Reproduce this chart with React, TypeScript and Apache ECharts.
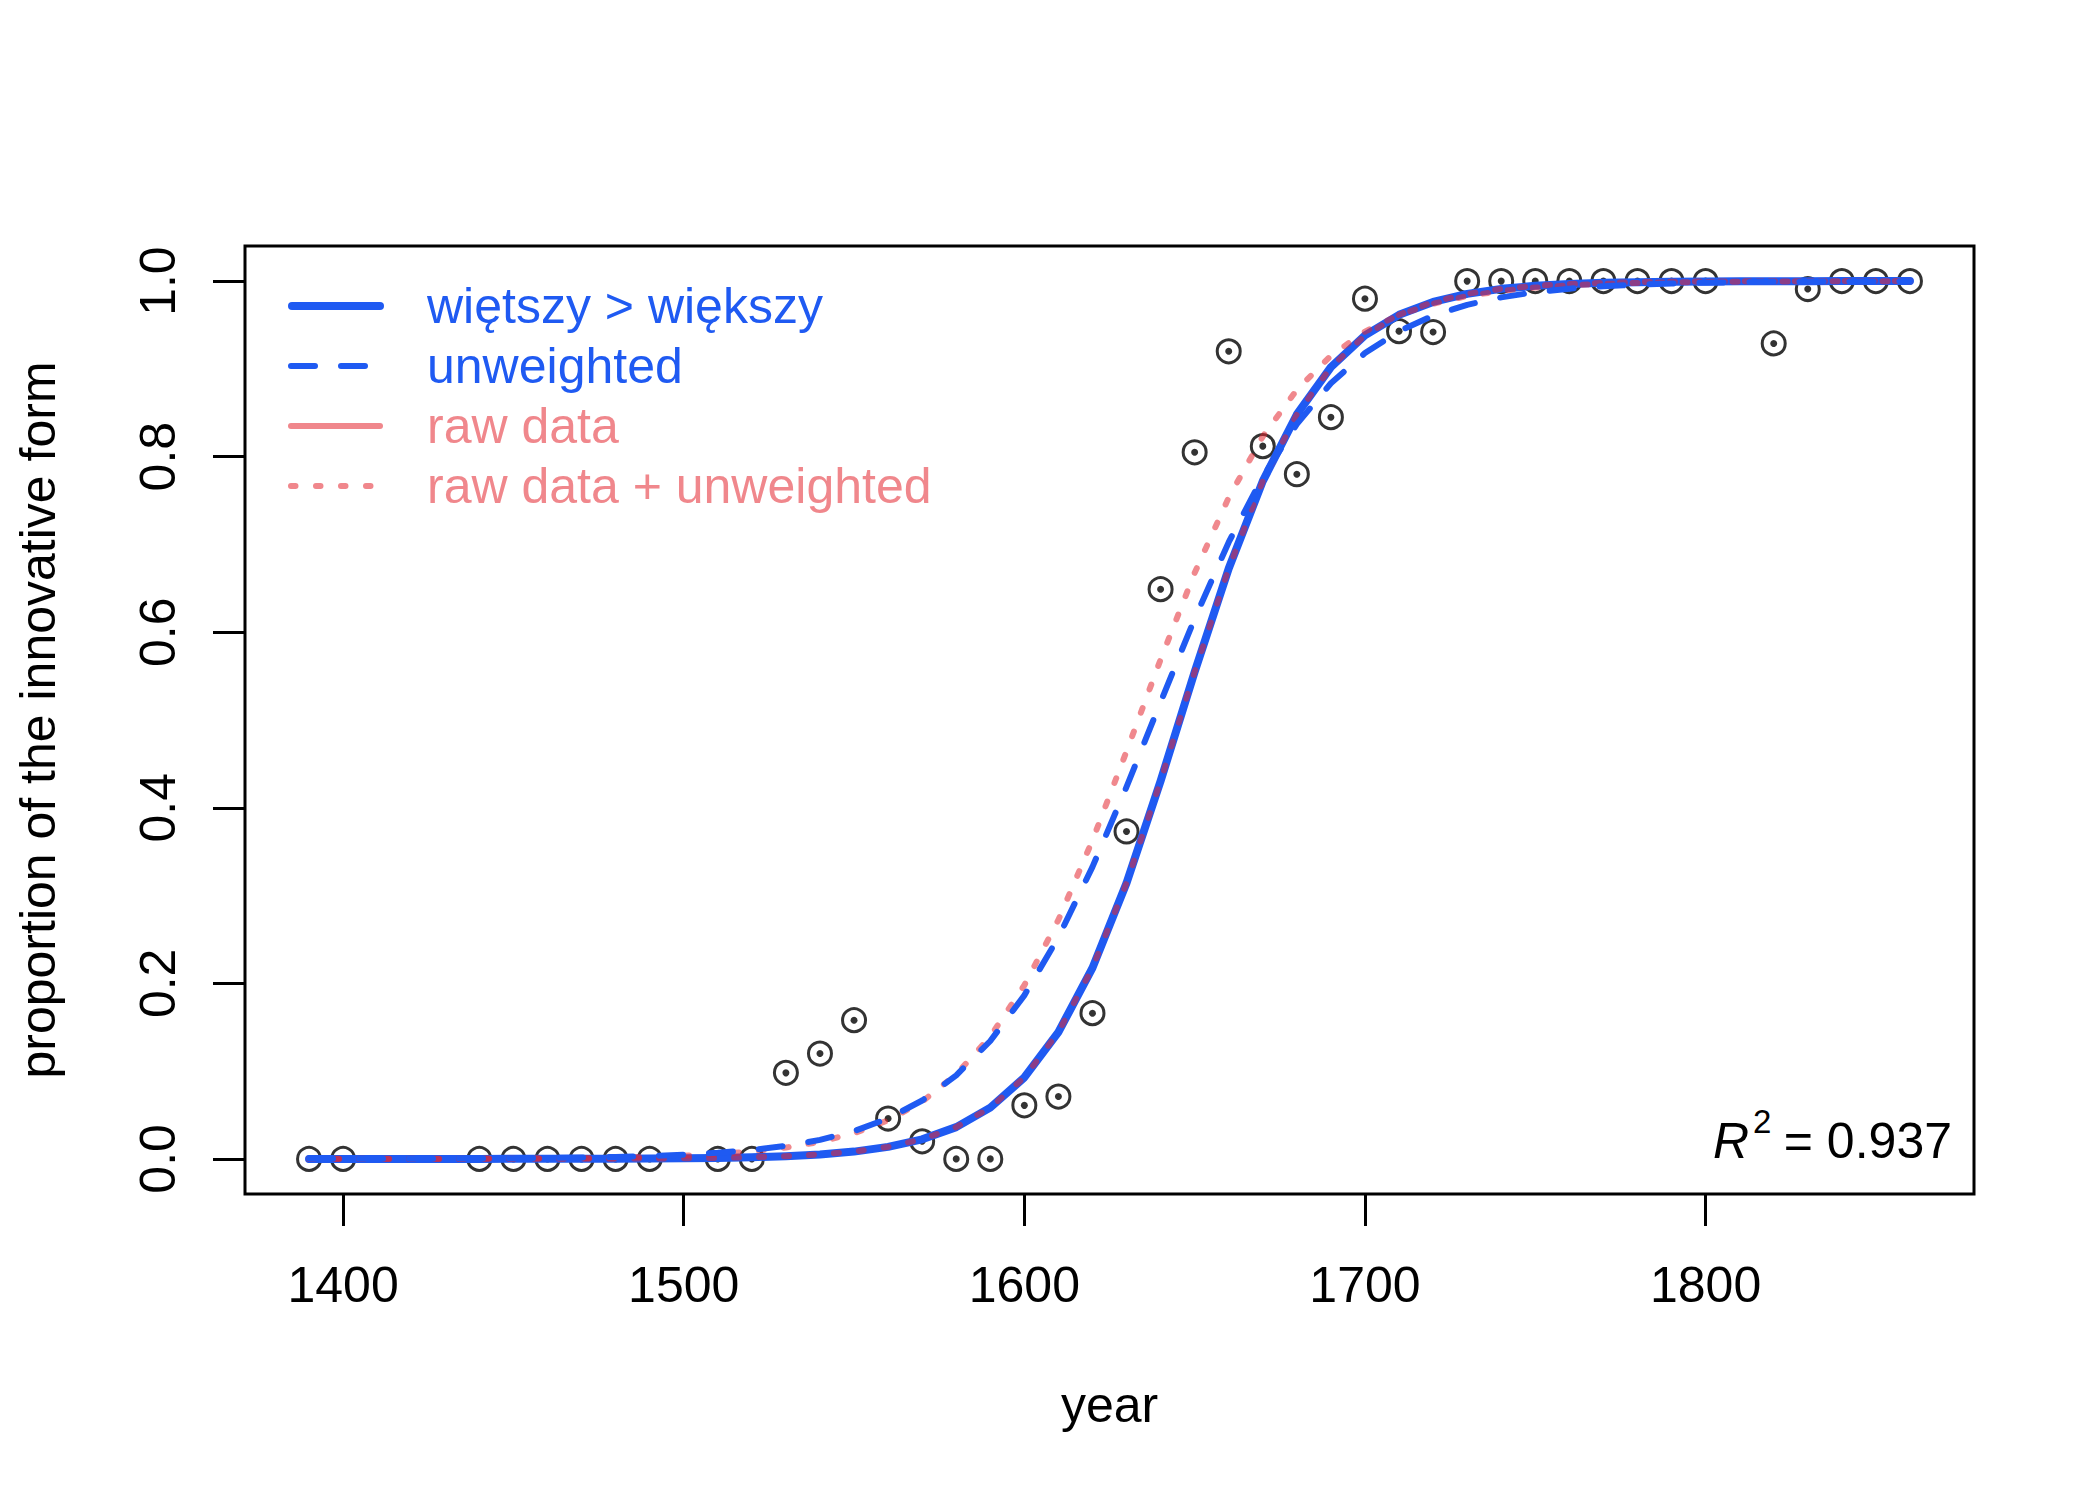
import React, { useEffect, useRef } from "react";
import * as echarts from "echarts";

// ---- data ----
const fitYears = [
  1390, 1400, 1410, 1420, 1430, 1440, 1450, 1460, 1470, 1480, 1490, 1500,
  1510, 1520, 1530, 1540, 1550, 1560, 1570, 1580, 1590, 1600, 1610, 1620,
  1630, 1640, 1650, 1660, 1670, 1680, 1690, 1700, 1710, 1720, 1730, 1740,
  1750, 1760, 1770, 1780, 1790, 1800, 1810, 1820, 1830, 1840, 1850, 1860,
];

// "więtszy > większy" (weighted fit, thick solid blue)
const weightedFit = [
  0.0, 0.0, 0.0, 0.0, 0.0, 0.0, 0.0001, 0.0001, 0.0002, 0.0003, 0.0004, 0.0007,
  0.0011, 0.0019, 0.0031, 0.0051, 0.0083, 0.0137, 0.0223, 0.0362, 0.0584, 0.0928, 0.1444, 0.2176,
  0.3143, 0.4305, 0.5548, 0.6726, 0.7721, 0.8481, 0.902, 0.9382, 0.9616, 0.9763, 0.9855, 0.9912,
  0.9946, 0.9967, 0.998, 0.9988, 0.9993, 0.9996, 0.9997, 0.9998, 0.9999, 1.0, 1.0, 1.0,
];

// "unweighted" (dashed blue)
const unweightedFit = [
  0.0001, 0.0001, 0.0001, 0.0002, 0.0003, 0.0005, 0.0007, 0.001, 0.0015, 0.0022, 0.0032, 0.0047,
  0.0069, 0.0101, 0.0148, 0.0217, 0.0317, 0.046, 0.0665, 0.0952, 0.1343, 0.1863, 0.2525, 0.3327,
  0.4238, 0.5204, 0.6155, 0.7026, 0.7771, 0.8372, 0.8836, 0.918, 0.943, 0.9606, 0.973, 0.9815,
  0.9874, 0.9914, 0.9942, 0.996, 0.9973, 0.9982, 0.9988, 0.9992, 0.9994, 0.9996, 0.9997, 0.9998,
];

// "raw data" (pink, lies on the weighted fit)
const rawFit = [
  0.0, 0.0, 0.0, 0.0, 0.0, 0.0, 0.0001, 0.0001, 0.0002, 0.0003, 0.0004, 0.0007,
  0.0011, 0.0019, 0.0031, 0.0051, 0.0083, 0.0137, 0.0223, 0.0362, 0.0584, 0.0928, 0.1444, 0.2176,
  0.3143, 0.4305, 0.5548, 0.6726, 0.7721, 0.8481, 0.902, 0.9382, 0.9616, 0.9763, 0.9855, 0.9912,
  0.9946, 0.9967, 0.998, 0.9988, 0.9993, 0.9996, 0.9997, 0.9998, 0.9999, 1.0, 1.0, 1.0,
];

// "raw data + unweighted" (pink dotted)
const rawUnweightedFit = [
  0.0, 0.0001, 0.0001, 0.0001, 0.0002, 0.0003, 0.0005, 0.0007, 0.001, 0.0016, 0.0024, 0.0037,
  0.0056, 0.0085, 0.0129, 0.0194, 0.0293, 0.0439, 0.0653, 0.0962, 0.1394, 0.1978, 0.2723, 0.3629,
  0.4643, 0.5689, 0.6676, 0.7535, 0.823, 0.8762, 0.915, 0.9425, 0.9615, 0.9743, 0.983, 0.9888,
  0.9926, 0.9951, 0.9968, 0.9979, 0.9986, 0.9991, 0.9994, 0.9996, 0.9997, 0.9998, 0.9999, 0.9999,
];

const obsYears = [
  1390, 1400, 1440, 1450, 1460, 1470, 1480, 1490, 1510, 1520,
  1530, 1540, 1550, 1560, 1570, 1580, 1590, 1600, 1610, 1620,
  1630, 1640, 1650, 1660, 1670, 1680, 1690, 1700, 1710, 1720,
  1730, 1740, 1750, 1760, 1770, 1780, 1790, 1800,
  1820, 1830, 1840, 1850, 1860,
];
const obsValues = [
  0, 0, 0, 0, 0, 0, 0, 0, 0, 0,
  0.098, 0.12, 0.158, 0.046, 0.02, 0, 0, 0.061, 0.071, 0.166,
  0.373, 0.649, 0.805, 0.92, 0.812, 0.78, 0.845, 0.98, 0.943, 0.942,
  1, 1, 1, 1, 1, 1, 1, 1,
  0.929, 0.991, 1, 1, 1,
];

const xTicks = [1400, 1500, 1600, 1700, 1800];
const yTicks = [0, 0.2, 0.4, 0.6, 0.8, 1.0];

const legendLabels = ["więtszy > większy", "unweighted", "raw data", "raw data + unweighted"];
const r2Text = "= 0.937";

// ---- styles ----
const FONT = "'Liberation Sans', Arial, Helvetica, sans-serif";
const BLUE = "#1f5af2";
const PINK_A = "rgba(228,38,47,0.55)";
const PINK = "#f0878c";

export default function App() {
  const ref = useRef<HTMLDivElement>(null);

  useEffect(() => {
    document.body.style.margin = "0";
    const chart = echarts.init(ref.current as HTMLDivElement, null, { renderer: "svg" });
    const pair = (xs: number[], ys: number[]) => xs.map((x, i) => [x, ys[i]]);

    const lx1 = 291;
    const lx2 = 380;
    const rows = [306, 366, 426, 486];
    const legendStyles = [
      { stroke: BLUE, lineWidth: 8, lineCap: "round" },
      { stroke: BLUE, lineWidth: 6, lineCap: "round", lineDash: [24, 26] },
      { stroke: PINK, lineWidth: 6, lineCap: "round" },
      { stroke: PINK, lineWidth: 6, lineCap: "round", lineDash: [4.5, 20.5] },
    ];
    const legendColors = [BLUE, BLUE, PINK, PINK];

    const graphics: any[] = [];
    legendLabels.forEach((lab, i) => {
      graphics.push({
        type: "line",
        silent: true,
        shape: { x1: i === 0 ? 292 : lx1, y1: rows[i], x2: lx2, y2: rows[i] },
        style: legendStyles[i],
      });
      graphics.push({
        type: "text",
        silent: true,
        x: 427,
        y: rows[i],
        style: {
          text: lab,
          fill: legendColors[i],
          font: `50px ${FONT}`,
          align: "left",
          verticalAlign: "middle",
        },
      });
    });
    graphics.push({
      type: "text",
      silent: true,
      x: 1713,
      y: 1141,
      style: { text: "R", fill: "#000", font: `italic 50px ${FONT}`, align: "left", verticalAlign: "middle" },
    });
    graphics.push({
      type: "text",
      silent: true,
      x: 1753,
      y: 1121,
      style: { text: "2", fill: "#000", font: `33px ${FONT}`, align: "left", verticalAlign: "middle" },
    });
    graphics.push({
      type: "text",
      silent: true,
      x: 1952,
      y: 1141,
      style: { text: r2Text, fill: "#000", font: `50px ${FONT}`, align: "right", verticalAlign: "middle" },
    });

    chart.setOption({
      animation: false,
      backgroundColor: "#fff",
      textStyle: { fontFamily: FONT },
      grid: {
        show: true,
        left: 245,
        right: 126,
        top: 246,
        bottom: 306,
        borderColor: "#000",
        borderWidth: 3,
        backgroundColor: "transparent",
        containLabel: false,
      },
      xAxis: {
        type: "value",
        min: 1371.2,
        max: 1878.8,
        axisLine: { show: false, onZero: false },
        splitLine: { show: false },
        axisTick: {
          show: true,
          inside: false,
          length: 32,
          customValues: xTicks,
          lineStyle: { color: "#000", width: 3 },
        },
        axisLabel: {
          customValues: xTicks,
          fontSize: 50,
          color: "#000",
          margin: 66,
          fontFamily: FONT,
          formatter: (v: number) => String(v),
        },
        name: "year",
        nameLocation: "middle",
        nameGap: 186,
        nameTextStyle: { fontSize: 50, color: "#000", fontFamily: FONT },
      },
      yAxis: {
        type: "value",
        min: -0.04,
        max: 1.04,
        axisLine: { show: false, onZero: false },
        splitLine: { show: false },
        axisTick: {
          show: true,
          inside: false,
          length: 32,
          customValues: yTicks,
          lineStyle: { color: "#000", width: 3 },
        },
        axisLabel: {
          customValues: yTicks,
          rotate: 90,
          fontSize: 50,
          color: "#000",
          margin: 62,
          fontFamily: FONT,
          formatter: (v: number) => v.toFixed(1),
        },
        name: "proportion of the innovative form",
        nameLocation: "middle",
        nameRotate: 90,
        nameGap: 182,
        nameTextStyle: { fontSize: 50, color: "#000", fontFamily: FONT },
      },
      graphic: graphics,
      series: [
        {
          type: "scatter",
          silent: true,
          z: 2,
          symbol: "circle",
          symbolSize: 23,
          data: pair(obsYears, obsValues),
          itemStyle: { color: "rgba(0,0,0,0)", borderColor: "#000", borderWidth: 3 },
        },
        {
          type: "scatter",
          silent: true,
          z: 2,
          symbol: "circle",
          symbolSize: 7,
          data: pair(obsYears, obsValues),
          itemStyle: { color: "#000" },
        },
        {
          name: legendLabels[0],
          type: "line",
          silent: true,
          z: 3,
          showSymbol: false,
          symbol: "none",
          data: pair(fitYears, weightedFit),
          lineStyle: { color: BLUE, width: 8, cap: "round", join: "round" },
        },
        {
          name: legendLabels[2],
          type: "line",
          silent: true,
          z: 4,
          showSymbol: false,
          symbol: "none",
          data: pair(fitYears, rawFit),
          lineStyle: { color: PINK_A, width: 6, type: [5, 20], cap: "round", join: "round" },
        },
        {
          name: legendLabels[3],
          type: "line",
          silent: true,
          z: 5,
          showSymbol: false,
          symbol: "none",
          data: pair(fitYears, rawUnweightedFit),
          lineStyle: { color: PINK_A, width: 6, type: [5, 20], cap: "round", join: "round" },
        },
        {
          name: legendLabels[1],
          type: "line",
          silent: true,
          z: 6,
          showSymbol: false,
          symbol: "none",
          data: pair(fitYears, unweightedFit),
          lineStyle: { color: BLUE, width: 6, type: [24, 26], cap: "round", join: "round" },
        },
      ],
    });

    return () => chart.dispose();
  }, []);

  return <div ref={ref} style={{ width: 2100, height: 1500 }} />;
}
